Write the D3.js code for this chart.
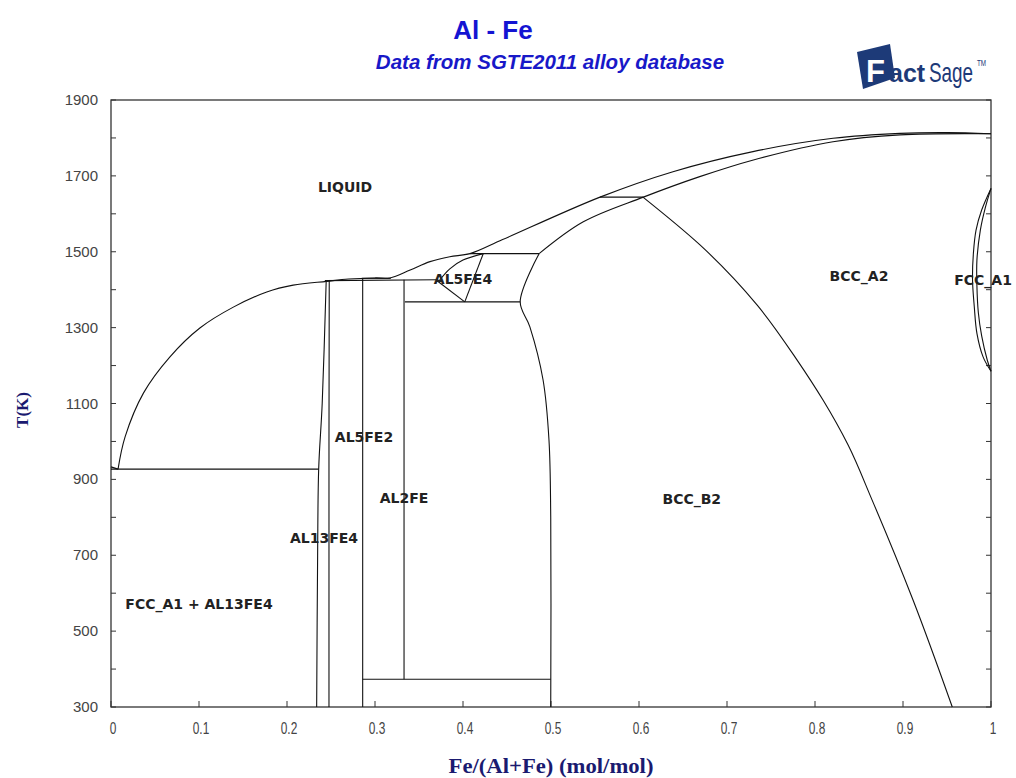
<!DOCTYPE html>
<html>
<head>
<meta charset="utf-8">
<script src="https://cdn.jsdelivr.net/npm/d3@7"></script>
<style>
  body { margin: 0; background: #fff; }
  svg { display: block; }
</style>
</head>
<body>
<div id="chart"></div>
<script>

// phase boundaries, each point is [Fe/(Al+Fe), T(K)]
var alMelt = [[0, 933], [0.008, 927]];
var liquidus = [[0.008, 927], [0.016, 1012], [0.037, 1128], [0.067, 1223], [0.101, 1299],
  [0.139, 1354], [0.177, 1394], [0.207, 1412], [0.245, 1422], [0.27, 1428], [0.30, 1431],
  [0.317, 1431], [0.34, 1452], [0.3625, 1474], [0.385, 1487], [0.408, 1495], [0.445, 1532],
  [0.5557, 1644], [0.6386, 1711], [0.7295, 1764], [0.8205, 1799], [0.8966, 1812],
  [0.95, 1814], [1, 1811]];
var solidusBcc = [[0.4865, 1495], [0.5367, 1579], [0.605, 1644], [0.669, 1698], [0.73, 1742],
  [0.8205, 1790], [0.8966, 1808], [1, 1811]];
var b2a2 = [[0.6045, 1644], [0.6693, 1518], [0.7341, 1360], [0.7795, 1215], [0.8091, 1109],
  [0.8375, 991], [0.8648, 846], [0.9114, 582], [0.956, 300]];
var b2Left = [[0.4865, 1495], [0.465, 1368], [0.476, 1302], [0.491, 1162], [0.4977, 1004],
  [0.4997, 800], [0.4997, 300]];
var al13fe4Left = [[0.2337, 300], [0.2348, 700], [0.236, 927], [0.24, 1100], [0.2445, 1420]];
var al13fe4Right = [[0.2477, 300], [0.2477, 1000], [0.248, 1424]];
var al5fe2Left = [[0.286, 300], [0.286, 1430]];
var al2feRight = [[0.333, 373], [0.333, 1426]];
var al5fe4Upper = [[0.372, 1421], [0.385, 1455], [0.40, 1478], [0.423, 1495]];
var al5fe4Right = [[0.423, 1495], [0.402, 1368]];
var al5fe4Lower = [[0.372, 1421], [0.402, 1368]];
var fccOuter = [[1, 1667], [0.9894, 1610], [0.983, 1557], [0.98, 1496], [0.979, 1426],
  [0.981, 1355], [0.984, 1285], [0.991, 1223], [1, 1185]];
var fccInner = [[1, 1667], [0.9934, 1615], [0.9879, 1557], [0.984, 1478], [0.984, 1410],
  [0.9856, 1340], [0.9894, 1278], [0.9958, 1214], [1, 1185]];

// invariant (horizontal) lines
var isotherms = [
  [[0, 927], [0.236, 927]],
  [[0.243, 1424], [0.372, 1426]],
  [[0.285, 1430], [0.318, 1430]],
  [[0.334, 1368], [0.465, 1368]],
  [[0.286, 373], [0.4997, 373]],
  [[0.408, 1495], [0.4865, 1495]],
  [[0.5557, 1644], [0.605, 1644]]
];

// region labels
var labelText = ["LIQUID", "AL5FE4", "BCC_A2", "FCC_A1", "AL5FE2", "AL2FE", "BCC_B2", "AL13FE4", "FCC_A1 + AL13FE4"];
var labelX = [0.266, 0.4, 0.85, 0.991, 0.2875, 0.333, 0.66, 0.242, 0.1];
var labelT = [1657, 1415, 1423, 1413, 998, 838, 835, 732, 558];

var xTicks = [0, 0.1, 0.2, 0.3, 0.4, 0.5, 0.6, 0.7, 0.8, 0.9, 1];
var yTicks = [300, 500, 700, 900, 1100, 1300, 1500, 1700, 1900];

var W = 1016, H = 778;
var m = { left: 111, right: 991, top: 100, bottom: 707 };

var svg = d3.select("#chart").append("svg")
  .attr("width", W)
  .attr("height", H);

var x = d3.scaleLinear().domain([0, 1]).range([m.left, m.right]);
var y = d3.scaleLinear().domain([300, 1900]).range([m.bottom, m.top]);

// titles
svg.append("text")
  .attr("x", 493).attr("y", 39)
  .attr("text-anchor", "middle")
  .style("font", "bold 26px 'Liberation Sans', Arial, sans-serif")
  .style("fill", "#1414d2")
  .text("Al - Fe");
svg.append("text")
  .attr("x", 550).attr("y", 69)
  .attr("text-anchor", "middle")
  .style("font", "italic bold 20.5px 'Liberation Sans', Arial, sans-serif")
  .style("fill", "#1818c8")
  .text("Data from SGTE2011 alloy database");

// FactSage logo
var logo = svg.append("g").attr("transform", "translate(855,44)");
logo.append("path")
  .attr("d", "M2,8 L35,0 L40,34 L8,45 Z")
  .attr("fill", "#1d3a78");
logo.append("text")
  .attr("x", 11).attr("y", 38)
  .style("font", "bold 31px 'Liberation Sans', Arial, sans-serif")
  .style("fill", "#fff")
  .text("F");
logo.append("text")
  .attr("x", 34).attr("y", 38)
  .style("font", "bold 25px 'Liberation Sans', Arial, sans-serif")
  .style("fill", "#1d3a78")
  .text("act");
logo.append("text")
  .attr("transform", "translate(74,38) scale(0.7,1)")
  .style("font", "27px 'Liberation Sans', sans-serif")
  .style("fill", "#1d3a78")
  .text("Sage");
logo.append("text")
  .attr("transform", "translate(122,22) scale(0.7,1)")
  .style("font", "9px 'Liberation Sans', sans-serif")
  .style("fill", "#1d3a78")
  .text("TM");

// frame
svg.append("rect")
  .attr("x", m.left).attr("y", m.top)
  .attr("width", m.right - m.left).attr("height", m.bottom - m.top)
  .attr("fill", "none")
  .attr("stroke", "#333")
  .attr("stroke-width", 1.3);

// inward ticks
var g = svg.append("g").attr("stroke", "#333").attr("stroke-width", 1);
d3.range(300, 1901, 100).forEach(function (t) {
  g.append("line").attr("x1", m.left).attr("x2", m.left + 5).attr("y1", y(t)).attr("y2", y(t));
  g.append("line").attr("x1", m.right).attr("x2", m.right - 5).attr("y1", y(t)).attr("y2", y(t));
});
xTicks.forEach(function (v) {
  g.append("line").attr("x1", x(v)).attr("x2", x(v)).attr("y1", m.bottom).attr("y2", m.bottom - 6);
});

svg.selectAll(".ylab").data(yTicks).enter().append("text")
  .attr("x", m.left - 13).attr("y", function (d) { return y(d) + 5; })
  .attr("text-anchor", "end")
  .style("font", "15px 'Liberation Sans', Arial, sans-serif")
  .style("fill", "#444")
  .text(function (d) { return d; });

svg.selectAll(".xlab").data(xTicks).enter().append("text")
  .attr("transform", function (d) { return "translate(" + (x(d) + 2) + "," + (m.bottom + 27) + ") scale(0.7,1)"; })
  .attr("text-anchor", "middle")
  .style("font", "17px 'Liberation Sans', sans-serif")
  .style("fill", "#444")
  .text(function (d) { return d; });

// axis titles
svg.append("text")
  .attr("transform", "translate(28,410)rotate(-90)")
  .attr("text-anchor", "middle")
  .style("font", "bold 17px 'Liberation Serif', 'Times New Roman', serif")
  .style("fill", "#1a1a70")
  .text("T(K)");
svg.append("text")
  .attr("transform", "translate(551,773) scale(1.08,1)")
  .attr("text-anchor", "middle")
  .style("font", "bold 21px 'Liberation Serif', 'Times New Roman', serif")
  .style("fill", "#1a1a70")
  .text("Fe/(Al+Fe) (mol/mol)");

// phase lines
var lineOf = function (curve) {
  return d3.line()
    .x(function (d) { return x(d[0]); })
    .y(function (d) { return y(d[1]); })
    .curve(curve);
};
var smooth = lineOf(d3.curveCatmullRom);
var straight = lineOf(d3.curveLinear);
var smoothY = lineOf(d3.curveMonotoneY);

var plot = svg.append("g")
  .attr("fill", "none")
  .attr("stroke", "#111")
  .attr("stroke-width", 1.1);

[liquidus, solidusBcc, b2Left, al13fe4Left, al5fe4Upper, fccOuter, fccInner].forEach(function (c) {
  plot.append("path").attr("d", smooth(c));
});
plot.append("path").attr("d", smoothY(b2a2));
[alMelt, al13fe4Right, al5fe2Left, al2feRight, al5fe4Right, al5fe4Lower].forEach(function (c) {
  plot.append("path").attr("d", straight(c));
});
isotherms.forEach(function (c) {
  plot.append("path").attr("d", straight(c));
});

// labels
svg.selectAll(".reg").data(labelText).enter().append("text")
  .attr("x", function (d, i) { return x(labelX[i]); })
  .attr("y", function (d, i) { return y(labelT[i]); })
  .attr("text-anchor", "middle")
  .style("font", "bold 14px 'DejaVu Sans', Verdana, sans-serif")
  .style("fill", "#222")
  .text(function (d) { return d; });

</script>
</body>
</html>
